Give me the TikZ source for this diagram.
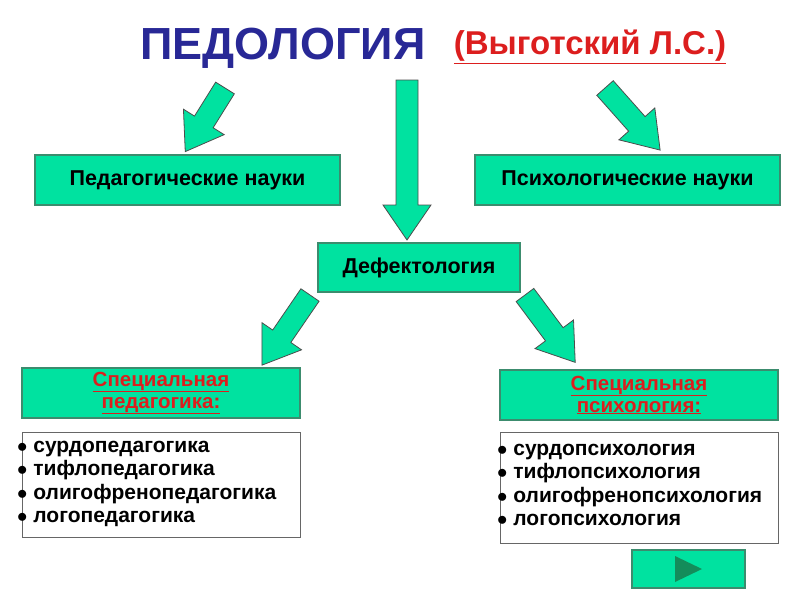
\documentclass[tikz,border=0pt]{standalone}
\usepackage{fontspec}
\setmainfont{Liberation Sans}
\definecolor{grn}{RGB}{0,226,160}
\definecolor{grnd}{RGB}{60,140,110}
\definecolor{ttl}{RGB}{40,40,150}
\definecolor{rd}{RGB}{220,30,30}
\definecolor{tri}{RGB}{20,140,90}
\begin{document}
\begin{tikzpicture}[x=1pt,y=-1pt,
  box/.style={draw=grnd,fill=grn,line width=1.2pt,font=\bfseries\fontsize{21.5}{23}\selectfont},
  hdr/.style={box,text=rd,align=center,font=\bfseries\fontsize{20.5}{22}\selectfont},
  listbox/.style={draw=black!60,line width=1pt,fill=white},
  listtxt/.style={anchor=north west,align=left,font=\bfseries\fontsize{21}{23.3}\selectfont,inner sep=0},
  arr/.style={draw=black!70,fill=grn,line width=0.8pt}]
\useasboundingbox (0,0) rectangle (800,600);
\newcommand\blockarrow[4]{%
  \begin{scope}[shift={(#1,#2)},rotate=#3]
  \draw[arr] (0,-11)--(#4-35,-11)--(#4-35,-24)--(#4,0)--(#4-35,24)--(#4-35,11)--(0,11)--cycle;
  \end{scope}}
\node[font=\bfseries\fontsize{45}{50}\selectfont,text=ttl] (t) at (283,48) {ПЕДОЛОГИЯ};
\node[font=\bfseries\fontsize{33}{36}\selectfont,text=rd] (v) at (590,47) {\underline{(Выготский Л.С.)}};
\blockarrow{225}{88}{-122}{75}
\blockarrow{407}{80}{-90}{160}
\blockarrow{605}{88}{-48.4}{83}
\blockarrow{310}{295}{-124.4}{85}
\blockarrow{525}{295}{-53.3}{84}
\node[box,minimum width=305,minimum height=50] (pn) at (187.5,180) {Педагогические науки};
\node[box,minimum width=305,minimum height=50] (ps) at (627.5,180) {Психологические науки};
\node[box,minimum width=202,minimum height=49] (d) at (419,267.5) {Дефектология};
\node[hdr,minimum width=278,minimum height=50] (sp) at (161,393) {\underline{Специальная}\\\underline{педагогика:}};
\node[hdr,minimum width=278,minimum height=50] (ss) at (639,395) {\underline{Специальная}\\\underline{психология:}};
\node[listbox,minimum width=278,minimum height=105] (lp) at (161,484.5) {};
\node[listbox,minimum width=278,minimum height=111] (ls) at (639,487.5) {};
\node[listtxt] (lpt) at (17,441) {$\bullet$ сурдопедагогика\\$\bullet$ тифлопедагогика\\$\bullet$ олигофренопедагогика\\$\bullet$ логопедагогика};
\node[listtxt] (lst) at (497,444) {$\bullet$ сурдопсихология\\$\bullet$ тифлопсихология\\$\bullet$ олигофренопсихология\\$\bullet$ логопсихология};
\node[box,minimum width=113,minimum height=38] (b) at (688.5,569) {};
\fill[tri] (675,556)--(702,569)--(675,582)--cycle;
\end{tikzpicture}
\end{document}
